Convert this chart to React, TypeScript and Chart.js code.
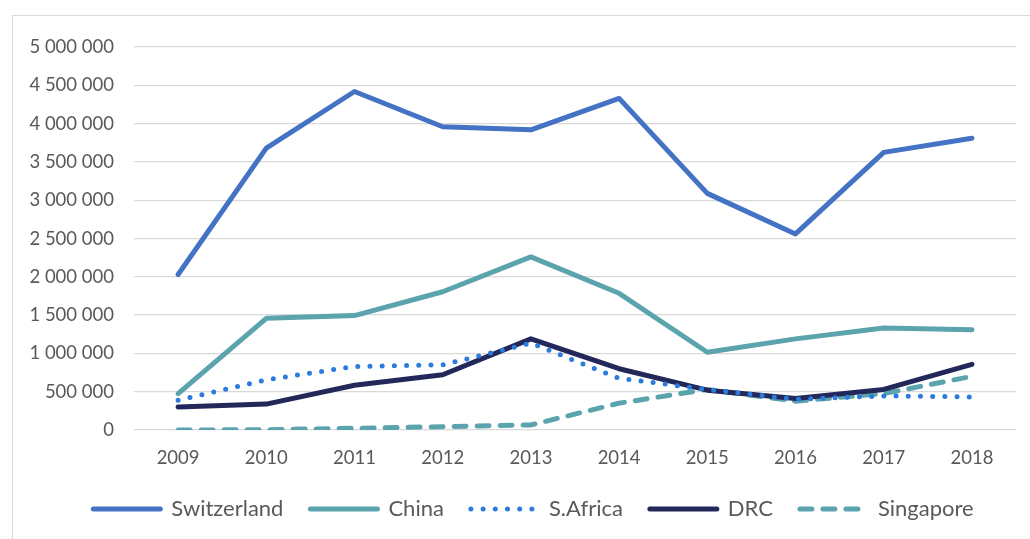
import React, { useEffect, useRef } from "react";
import Chart from "chart.js/auto";

const years = ["2009", "2010", "2011", "2012", "2013", "2014", "2015", "2016", "2017", "2018"];
const switzerland = [2030000, 3680000, 4420000, 3960000, 3920000, 4330000, 3090000, 2560000, 3625000, 3810000];
const china = [476000, 1458000, 1494000, 1805000, 2260000, 1785000, 1015000, 1190000, 1333000, 1308000];
const sAfrica = [390000, 655000, 830000, 850000, 1134000, 675000, 530000, 400000, 445000, 432000];
const drc = [300000, 338000, 585000, 722000, 1190000, 800000, 520000, 412000, 530000, 858000];
const singapore = [0, 4000, 22000, 43000, 66000, 350000, 530000, 376000, 476000, 700000];

const FONT = "Lato, 'Open Sans', sans-serif";
const TEXT = "#595959";

function fmt(v: number): string {
  return String(v).replace(/\B(?=(\d{3})+(?!\d))/g, " ");
}

const legendShift = {
  id: "legendShift",
  afterLayout(chart: any) {
    if (chart.legend) {
      chart.legend.left += 38;
    }
  },
};

export default function App() {
  const ref = useRef<HTMLCanvasElement | null>(null);

  useEffect(() => {
    if (!ref.current) return;
    const mk = (label: string, data: number[], color: string, dash: number[]) => ({
      label,
      data,
      borderColor: color,
      backgroundColor: color,
      borderWidth: 5,
      borderDash: dash,
      borderCapStyle: "round" as const,
      borderJoinStyle: "round" as const,
      pointRadius: 0,
      pointHoverRadius: 0,
      tension: 0,
      fill: false,
    });
    const chart = new Chart(ref.current, {
      type: "line",
      data: {
        labels: years,
        datasets: [
          mk("Switzerland", switzerland, "#4472C4", []),
          mk("China", china, "#5BA3AD", []),
          mk("S.Africa", sAfrica, "#2B7BDB", [0, 12.2]),
          mk("DRC", drc, "#22285A", []),
          mk("Singapore", singapore, "#5BA3AD", [12, 11]),
        ],
      },
      plugins: [legendShift],
      options: {
        responsive: false,
        animation: false,
        layout: { padding: { left: 0, right: 38, top: 29, bottom: 26 } },
        plugins: {
          tooltip: { enabled: false },
          legend: {
            position: "bottom",
            labels: {
              usePointStyle: true,
              pointStyleWidth: 67,
              padding: 27,
              color: TEXT,
              font: { family: FONT, size: 22 },
              generateLabels: (c: any) =>
                c.data.datasets.map((ds: any, i: number) => ({
                  text: ds.label,
                  fillStyle: ds.borderColor,
                  strokeStyle: ds.borderColor,
                  lineWidth: 5,
                  lineDash: ds.borderDash || [],
                  lineCap: "round",
                  lineJoin: "round",
                  pointStyle: "line",
                  hidden: false,
                  datasetIndex: i,
                  fontColor: TEXT,
                })),
            },
          },
        },
        scales: {
          x: {
            offset: true,
            grid: { display: false, drawTicks: false },
            border: { display: false },
            ticks: { color: TEXT, font: { family: FONT, size: 18.5 }, padding: 17 },
            afterFit: (s: any) => {
              s.height = 41;
            },
          },
          y: {
            min: 0,
            max: 5000000,
            grid: { color: "#d9d9d9", lineWidth: 1.3, drawTicks: false },
            border: { display: false },
            ticks: {
              stepSize: 500000,
              autoSkip: false,
              color: TEXT,
              font: { family: FONT, size: 18.5 },
              padding: 20,
              callback: (v: any) => fmt(Number(v)),
            },
            afterFit: (s: any) => {
              s.width = 121;
            },
          },
        },
      },
    });
    return () => chart.destroy();
  }, []);

  return (
    <div style={{ position: "fixed", inset: 0, overflow: "hidden", background: "#fff" }}>
      <div
        style={{
          position: "absolute",
          left: 12,
          top: 15,
          width: 1041,
          height: 540,
          border: "1px solid #d9d9d9",
        }}
      >
        <canvas ref={ref} width={1041} height={540} style={{ display: "block", width: 1041, height: 540 }} />
      </div>
    </div>
  );
}
